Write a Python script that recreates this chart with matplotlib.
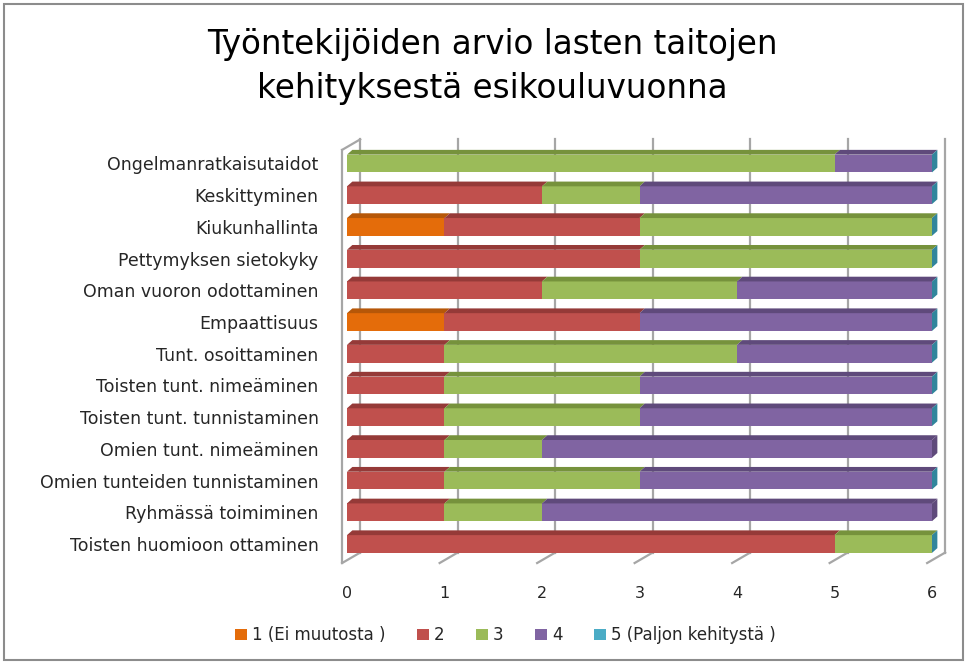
import numpy as np
import matplotlib
matplotlib.use("Agg")
import matplotlib.pyplot as plt
from matplotlib.patches import Polygon, Rectangle

# categories listed bottom -> top (as drawn on the y axis)
categories = ["Toisten huomioon ottaminen", "Ryhmässä toimiminen",
              "Omien tunteiden tunnistaminen", "Omien tunt. nimeäminen",
              "Toisten tunt. tunnistaminen", "Toisten tunt. nimeäminen",
              "Tunt. osoittaminen", "Empaattisuus", "Oman vuoron odottaminen",
              "Pettymyksen sietokyky", "Kiukunhallinta", "Keskittyminen",
              "Ongelmanratkaisutaidot"]
s1 = [0, 0, 0, 0, 0, 0, 0, 1, 0, 0, 1, 0, 0]
s2 = [5, 1, 1, 1, 1, 1, 1, 2, 2, 3, 2, 2, 0]
s3 = [1, 1, 2, 1, 2, 2, 3, 0, 2, 3, 3, 1, 5]
s4 = [0, 4, 3, 4, 3, 3, 2, 3, 2, 0, 0, 3, 1]
s5 = [0, np.nan, 0, np.nan, 0, 0, 0, 0, 0, 0, 0, 0, 0]
series_names = ["1 (Ei muutosta )", "2", "3", "4", "5 (Paljon kehitystä )"]
title = "Työntekijöiden arvio lasten taitojen\nkehityksestä esikouluvuonna"

colors = ["#E46C0A", "#C0504D", "#9BBB59", "#8064A2", "#4BACC6"]
tops = ["#B65708", "#953A38", "#76923C", "#5F4A7B", "#31859C"]

W, H = 970, 664
fig = plt.figure(figsize=(W / 100, H / 100), dpi=100)
fig.patch.set_facecolor("white")
fig.add_artist(Rectangle((0.004, 0.006), 0.989, 0.988, transform=fig.transFigure,
                         fill=False, edgecolor="#8c8c8c", lw=1.5))

# axes placement in pixels
x0px, ppu = 347, 97.5
yc_top, yc_bot = 163.5, 544.0
ppr = (yc_bot - yc_top) / 12
xlim = (-0.12, 6.2)
ylim = (-0.8, 12.9)
left = x0px + xlim[0] * ppu
right = x0px + xlim[1] * ppu
bot = yc_bot - ylim[0] * ppr
top = yc_top - (ylim[1] - 12) * ppr
ax = fig.add_axes([left / W, 1 - bot / H, (right - left) / W, (bot - top) / H])
ax.set_xlim(*xlim); ax.set_ylim(*ylim)
for s in ax.spines.values():
    s.set_visible(False)

# 3D frame: walls and grid
wdx, wdy = 0.135, 0.33
ybot_f, ytop_f = -0.6, 12.43
gcol = "#a6a6a6"
for k in range(7):
    ax.plot([k + wdx, k + wdx], [ybot_f + wdy, ytop_f + wdy], color=gcol, lw=1.6, zorder=0)
    ax.plot([k - 0.05, k + wdx], [ybot_f, ybot_f + wdy], color=gcol, lw=1.6, zorder=0)
ax.plot([-0.05, -0.05], [ybot_f, ytop_f], color=gcol, lw=1.6, zorder=0)
ax.plot([-0.05, wdx], [ytop_f, ytop_f + wdy], color=gcol, lw=1.6, zorder=0)

# stacked bars with a shallow 3D look
h, bdx, bdy = 0.56, 0.055, 0.15
data = np.array([s1, s2, s3, s4, s5], dtype=float)
y = np.arange(len(categories))
cum = np.zeros(len(categories))
for i in range(5):
    vals = np.nan_to_num(data[i])
    ax.barh(y, vals, left=cum, height=h, color=colors[i], zorder=2, label=series_names[i])
    for j in range(len(categories)):
        if np.isnan(data[i][j]) or (vals[j] == 0 and i < 4):
            continue
        l, r, t = cum[j], cum[j] + vals[j], y[j] + h / 2
        ax.add_patch(Polygon([(l, t), (l + bdx, t + bdy), (r + bdx, t + bdy), (r, t)],
                             closed=True, color=tops[i], lw=0, zorder=3))
    cum += vals
# right end faces, coloured by last drawn series
for j in range(len(categories)):
    last = max(i for i in range(5) if not np.isnan(data[i][j]) and (data[i][j] > 0 or i == 4))
    r, b, t = cum[j], y[j] - h / 2, y[j] + h / 2
    ax.add_patch(Polygon([(r, b), (r, t), (r + bdx, t + bdy), (r + bdx, b + bdy)],
                         closed=True, color=tops[last], lw=0, zorder=3))

ax.set_yticks(y)
ax.set_yticklabels(categories, fontsize=12.5, color="#262626")
ax.tick_params(axis="y", length=0, pad=12)
ax.set_xticks(range(7))
ax.tick_params(axis="x", length=0, labelsize=11.5, pad=12, colors="#262626")

fig.text(0.508, 0.9, title, ha="center", va="center", fontsize=23.5,
         linespacing=1.4, color="black")

handles, labels = ax.get_legend_handles_labels()
fig.legend(handles, labels, loc="center", bbox_to_anchor=(0.521, 0.043), ncol=5,
           frameon=False, fontsize=12, handlelength=0.7, handleheight=0.7,
           handletextpad=0.3, columnspacing=1.9, labelcolor="#262626")

fig.savefig("out.png", dpi=100, facecolor="white")
